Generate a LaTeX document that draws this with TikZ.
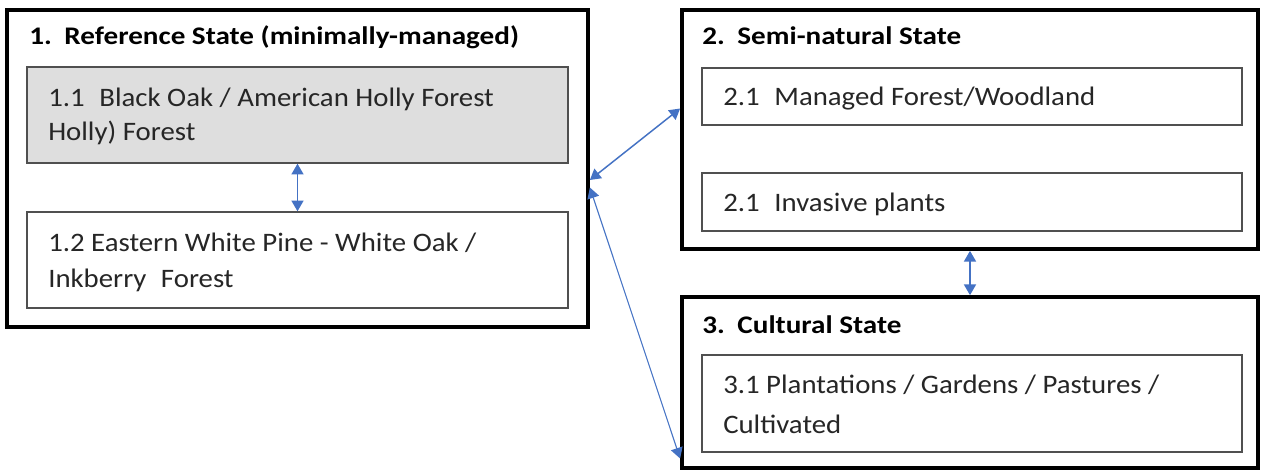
\documentclass[tikz,border=0pt]{standalone}
\usepackage{fontspec}
\setmainfont{Carlito}
\newfontfamily\bodyfont[FakeStretch=1.08]{Carlito}
\newfontfamily\headfont[FakeStretch=1.15]{Carlito}
\usetikzlibrary{arrows.meta,fit}
\definecolor{arrowblue}{HTML}{4472C4}
\definecolor{boxgray}{HTML}{DEDEDE}
\definecolor{edgegray}{HTML}{505050}
\tikzset{
  outerbox/.style={draw=black,line width=2.8pt,inner sep=0pt,fill=white},
  innerbox/.style={draw=edgegray,line width=1.1pt,inner sep=0pt},
  titletext/.style={anchor=base west,inner sep=0pt,font=\headfont\fontsize{19}{23}\selectfont\bfseries},
  bodytext/.style={anchor=base west,inner sep=0pt,font=\bodyfont\fontsize{20}{24}\selectfont,text=black!85},
  link/.style={draw=arrowblue,line width=1.1pt,{Triangle[length=8pt,width=9pt]}-{Triangle[length=8pt,width=9pt]}},
  thinlink/.style={draw=arrowblue,line width=0.8pt,{Triangle[length=8pt,width=9pt]}-{Triangle[length=8pt,width=9pt]}}
}
\begin{document}
\begin{tikzpicture}[x=0.75pt,y=-0.75pt]
\path[fill=white,use as bounding box] (0,0) rectangle (1261,471);
% outer state boxes
\node[outerbox,fit={(7,10)(588,327)}] (b1) {};
\node[outerbox,fit={(682,10)(1258,249)}] (b2) {};
\node[outerbox,fit={(682,297)(1258,468)}] (b3) {};
% inner boxes
\node[innerbox,fill=boxgray,fit={(27,67)(568,163)}] (b11) {};
\node[innerbox,fit={(27,212)(568,308)}] (b12) {};
\node[innerbox,fit={(702,68)(1242,125)}] (b21) {};
\node[innerbox,fit={(702,173)(1242,231)}] (b22) {};
\node[innerbox,fit={(702,355)(1242,452)}] (b31) {};
% titles
\node[titletext] (t1) at (29,45) {1.\hspace{0.5em}Reference State (minimally-managed)};
\node[titletext] (t2) at (702,45) {2.\hspace{0.5em}Semi-natural State};
\node[titletext] (t3) at (702,333) {3.\hspace{0.5em}Cultural State};
% texts
\node[bodytext] (x11a) at (48,106) {1.1\hspace{0.55em}Black Oak / American Holly Forest};
\node[bodytext] (x11b) at (48,140) {Holly) Forest};
\node[bodytext] (x12a) at (48,251) {1.2 Eastern White Pine - White Oak /};
\node[bodytext] (x12b) at (48,287) {Inkberry\hspace{0.3em} Forest};
\node[bodytext] (x21) at (723,105) {2.1\hspace{0.55em}Managed Forest/Woodland};
\node[bodytext] (x22) at (723,211) {2.1\hspace{0.55em}Invasive plants};
\node[bodytext] (x31a) at (723,393) {3.1 Plantations / Gardens / Pastures /};
\node[bodytext] (x31b) at (723,433) {Cultivated};
% connectors
\draw[link] (b11.south) -- (b12.north);
\draw[link] (b2.south -| 970,0) -- (b3.north -| 970,0);
\draw[link] ([yshift=-11.5*0.75pt]b1.east) -- ([yshift=21*0.75pt]b2.west);
\draw[thinlink] ([yshift=-19*0.75pt]b1.east) -- ([yshift=-76*0.75pt]b3.west);
\end{tikzpicture}
\end{document}
